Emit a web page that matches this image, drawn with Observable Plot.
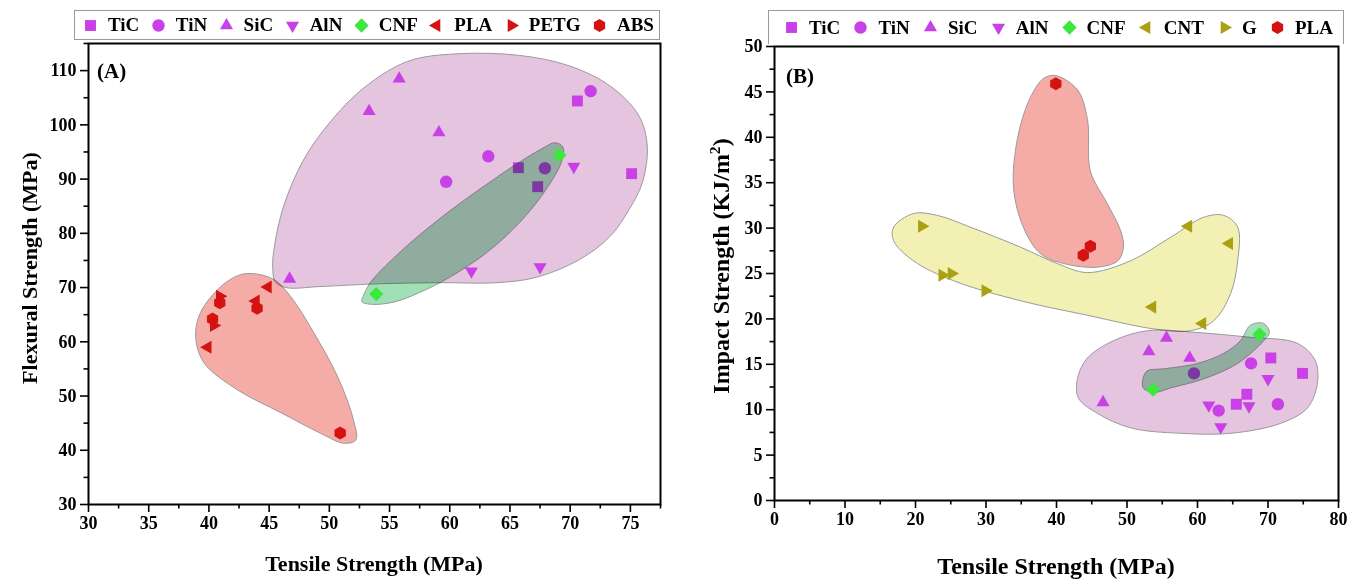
<!DOCTYPE html>
<html><head><meta charset="utf-8">
<script src="https://cdn.jsdelivr.net/npm/d3@7"></script>
<script src="https://cdn.jsdelivr.net/npm/@observablehq/plot@0.6"></script>
<style>
body{margin:0;background:#fff;}
#wrap{position:relative;width:1362px;height:581px;overflow:hidden;font-family:"Liberation Serif","Times New Roman",serif;font-weight:bold;color:#000;}
.panel{position:absolute;top:0;}
.legend{position:absolute;display:flex;align-items:center;justify-content:space-between;box-sizing:border-box;font-size:19px;border:1px solid #9a9a9a;background:#fff;}
.legend .it{display:flex;align-items:center;}
.legend svg{margin-right:9px;}
.title{position:absolute;white-space:nowrap;font-weight:bold;transform:translate(-50%,-50%);}
.tag{position:absolute;font-size:21px;font-weight:bold;}
</style></head><body><div id="wrap"></div>
<script>
// ---------- Panel A data: [tensile MPa, flexural MPa] ----------
const A_TiC  = [[70.6,104.4],[75.1,91.0],[65.7,92.1],[67.3,88.6]];
const A_TiN  = [[71.7,106.2],[63.2,94.2],[59.7,89.5],[67.9,92.0]];
const A_SiC  = [[55.8,108.5],[53.3,102.5],[59.1,98.6],[46.7,71.6]];
const A_AlN  = [[70.3,92.3],[61.8,73.0],[67.5,73.8]];
const A_CNF  = [[69.1,94.4],[53.9,68.8]];
const A_PLA  = [[44.9,70.1],[43.9,67.5],[39.9,59.0]];
const A_PETG = [[40.9,68.4],[40.4,63.0]];
const A_ABS  = [[40.9,67.2],[44.0,66.2],[40.3,64.2],[50.9,43.2]];
// group outlines (data units)
const A_groupPink = [[45.4,77.0],[46.2,85.0],[47.9,93.7],[50.1,100.6],[52.8,106.7],[56.5,111.7],[60.6,113.1],[65.8,112.8],[69.9,110.9],[73.3,107.2],[75.7,101.7],[76.4,96.1],[76.0,89.4],[74.9,84.4],[73.3,79.4],[70.8,75.2],[67.2,71.9],[63.9,70.9],[59.2,70.9],[54.2,70.7],[49.3,70.2],[46.4,70.0],[45.5,71.1],[45.3,73.7]];
const A_groupRed = [[43.5,72.6],[45.4,71.5],[46.8,68.3],[48.7,61.7],[50.7,53.5],[52.0,45.6],[52.2,41.9],[51.2,41.3],[49.3,43.1],[46.0,46.9],[42.4,51.1],[39.6,56.1],[38.9,60.9],[39.3,65.4],[41.0,70.2],[42.4,72.2]];
const A_groupGreen = [[52.8,68.3],[53.4,70.9],[56.1,77.0],[59.4,83.1],[63.3,89.4],[66.2,93.7],[67.9,95.9],[68.7,96.7],[69.4,95.9],[69.3,93.3],[68.0,88.1],[65.8,82.0],[63.1,76.5],[60.0,71.9],[57.5,69.1],[55.5,67.4],[53.6,66.9],[52.7,67.4]];
const A_xTicks = [30,35,40,45,50,55,60,65,70,75];
const A_xMinor = [32.5,37.5,42.5,47.5,52.5,57.5,62.5,67.5,72.5,77.5];
const A_yTicks = [30,40,50,60,70,80,90,100,110];
const A_yMinor = [35,45,55,65,75,85,95,105,115];

// ---------- Panel B data: [tensile MPa, impact KJ/m2] ----------
const B_TiC = [[70.4,15.7],[74.9,14.0],[67.0,11.7],[65.5,10.6]];
const B_TiN = [[59.5,14.0],[67.6,15.1],[63.0,9.9],[71.4,10.6]];
const B_SiC = [[55.6,17.9],[53.1,16.4],[58.9,15.7],[46.6,10.8]];
const B_AlN = [[70.0,13.4],[61.6,10.5],[67.3,10.4],[63.3,8.1]];
const B_CNF = [[68.8,18.3],[53.7,12.2]];
const B_CNT = [[58.7,30.2],[64.5,28.3],[53.6,21.3],[60.7,19.5]];
const B_G   = [[20.9,30.2],[23.8,24.8],[25.1,25.0],[29.9,23.1]];
const B_PLA = [[39.9,45.9],[44.8,28.0],[43.8,27.0]];
const B_groupPink = [[43.0,13.5],[44.4,15.7],[48.1,17.6],[52.9,18.7],[60.0,18.5],[67.1,18.0],[74.2,17.3],[76.7,15.4],[77.0,12.9],[75.6,10.2],[71.8,8.5],[64.7,7.4],[57.6,7.4],[50.5,8.0],[45.8,9.6],[43.1,11.3]];
const B_groupYellow = [[19.7,31.6],[16.9,30.1],[16.9,28.6],[19.7,26.4],[25.4,24.2],[34.9,22.0],[44.4,20.4],[53.8,18.9],[59.0,18.7],[62.3,19.8],[64.7,22.8],[65.7,26.4],[65.7,30.1],[63.7,31.4],[60.9,31.2],[56.2,29.0],[50.5,26.4],[44.4,25.1],[40.1,26.1],[34.9,27.9],[27.8,30.1],[23.1,31.4]];
const B_groupRed = [[39.9,46.8],[43.0,45.2],[44.4,41.9],[44.8,36.3],[47.2,32.7],[49.1,29.7],[49.5,27.9],[48.7,26.4],[45.8,25.7],[41.0,26.1],[37.7,27.2],[35.3,30.1],[33.9,34.5],[34.5,40.0],[36.3,44.4],[38.2,46.5]];
const B_groupGreen = [[52.3,13.5],[52.9,14.3],[55.2,14.5],[60.0,15.1],[63.7,16.2],[66.1,17.6],[67.5,19.3],[69.4,19.5],[70.2,18.5],[69.4,17.6],[65.7,15.1],[60.9,13.4],[56.2,12.4],[53.8,11.9],[52.3,12.4]];
const B_xTicks = [0,10,20,30,40,50,60,70,80];
const B_xMinor = [5,15,25,35,45,55,65,75];
const B_yTicks = [0,5,10,15,20,25,30,35,40,45,50];
const B_yMinor = [2.5,7.5,12.5,17.5,22.5,27.5,32.5,37.5,42.5,47.5];

// ---------- styles ----------
const MAG="#c940e6", GRN="#3de83d", RED="#d41212", OLV="#ab9f12";
const F_PINK="#e5c4df", F_RED="#f5aca7", F_GREEN="#9fe0b6", F_YEL="#f2f1b3", EDGE="#999";
const FONT='"Liberation Serif","Times New Roman",serif';
const DOT_R = 6.2;

const R = s => Math.sqrt(s/Math.PI);
function poly(c, pts){c.moveTo(pts[0][0],pts[0][1]);for(let i=1;i<pts.length;i++)c.lineTo(pts[i][0],pts[i][1]);c.closePath();}
const symSquare={draw(c,s){const h=R(s)*0.88;c.rect(-h,-h,2*h,2*h);}};
const symCircle={draw(c,s){const r=R(s);c.moveTo(r,0);c.arc(0,0,r,0,2*Math.PI);}};
function tri(angle){return {draw(c,s){const r=R(s)*1.22;const p=[0,1,2].map(k=>{const a=angle+k*2*Math.PI/3;return [r*Math.cos(a),r*Math.sin(a)];});poly(c,p);}};}
const symUp=tri(-Math.PI/2), symDown=tri(Math.PI/2), symLeft=tri(Math.PI), symRight=tri(0);
const symDiamond={draw(c,s){const r=R(s)*1.15;poly(c,[[0,-r],[r,0],[0,r],[-r,0]]);}};
const symHex={draw(c,s){const r=R(s)*1.05;const p=d3.range(6).map(k=>{const a=-Math.PI/2+k*Math.PI/3;return [r*Math.cos(a),r*Math.sin(a)];});poly(c,p);}};

const group = (pts, fill) => Plot.line(pts, {x:d=>d[0], y:d=>d[1], curve:"catmull-rom-closed", fill, stroke:EDGE, strokeWidth:1, mixBlendMode:"multiply"});
const dots = (pts, symbol, fill) => Plot.dot(pts, {x:d=>d[0], y:d=>d[1], r:DOT_R, symbol, fill, stroke:"none"});
function axes(xt, xm, yt, ym){
  return [
    Plot.axisX(xt, {tickSize:8, tickPadding:4, strokeWidth:1.6, label:null, fontSize:18, fontWeight:"bold"}),
    Plot.axisX(xm, {tickSize:4.5, strokeWidth:1.6, label:null, tickFormat:()=>""}),
    Plot.axisY(yt, {tickSize:8, tickPadding:4, strokeWidth:1.6, label:null, fontSize:18, fontWeight:"bold"}),
    Plot.axisY(ym, {tickSize:4.5, strokeWidth:1.6, label:null, tickFormat:()=>""}),
    Plot.frame({stroke:"#000", strokeWidth:2})
  ];
}
const style = {fontFamily:FONT, fontSize:"18px", fontWeight:"bold", color:"#000", background:"transparent", overflow:"visible"};

const plotA = Plot.plot({
  width:680, height:581, marginLeft:88, marginRight:20, marginTop:43, marginBottom:77,
  x:{domain:[30,77.5]}, y:{domain:[30,115]}, style,
  marks:[
    group(A_groupPink, F_PINK), group(A_groupRed, F_RED),
    dots(A_TiC, symSquare, MAG), dots(A_TiN, symCircle, MAG), dots(A_SiC, symUp, MAG), dots(A_AlN, symDown, MAG),
    dots(A_PLA, symLeft, RED), dots(A_PETG, symRight, RED), dots(A_ABS, symHex, RED),
    group(A_groupGreen, F_GREEN),
    dots(A_CNF, symDiamond, GRN),
    ...axes(A_xTicks, A_xMinor, A_yTicks, A_yMinor)
  ]
});
const plotB = Plot.plot({
  width:682, height:581, marginLeft:94, marginRight:24, marginTop:46, marginBottom:81,
  x:{domain:[0,80]}, y:{domain:[0,50]}, style,
  marks:[
    group(B_groupPink, F_PINK), group(B_groupYellow, F_YEL), group(B_groupRed, F_RED),
    dots(B_TiC, symSquare, MAG), dots(B_TiN, symCircle, MAG), dots(B_SiC, symUp, MAG), dots(B_AlN, symDown, MAG),
    dots(B_CNT, symLeft, OLV), dots(B_G, symRight, OLV), dots(B_PLA, symHex, RED),
    group(B_groupGreen, F_GREEN),
    dots(B_CNF, symDiamond, GRN),
    ...axes(B_xTicks, B_xMinor, B_yTicks, B_yMinor)
  ]
});

const wrap = document.getElementById("wrap");
function place(node, left){const d=document.createElement("div");d.className="panel";d.style.left=left+"px";d.appendChild(node);wrap.appendChild(d);}
place(plotA, 0); place(plotB, 680);

function symSvg(sym, color){
  const p=d3.path(); sym.draw(p, Math.PI*6.2*6.2);
  const ns="http://www.w3.org/2000/svg";
  const s=document.createElementNS(ns,"svg"); s.setAttribute("width",17); s.setAttribute("height",17); s.setAttribute("viewBox","-8.5 -8.5 17 17");
  const path=document.createElementNS(ns,"path"); path.setAttribute("d",p.toString()); path.setAttribute("fill",color);
  s.appendChild(path); return s;
}
const A_legendLabels = ["TiC","TiN","SiC","AlN","CNF","PLA","PETG","ABS"];
const A_legendSyms = [[symSquare,MAG],[symCircle,MAG],[symUp,MAG],[symDown,MAG],[symDiamond,GRN],[symLeft,RED],[symRight,RED],[symHex,RED]];
const B_legendLabels = ["TiC","TiN","SiC","AlN","CNF","CNT","G","PLA"];
const B_legendSyms = [[symSquare,MAG],[symCircle,MAG],[symUp,MAG],[symDown,MAG],[symDiamond,GRN],[symLeft,OLV],[symRight,OLV],[symHex,RED]];
function legend(labels, syms, left, top, width, height, pad){
  const d=document.createElement("div"); d.className="legend";
  Object.assign(d.style,{left:left+"px",top:top+"px",width:width+"px",height:height+"px",padding:pad});
  labels.forEach((t,i)=>{const it=document.createElement("div");it.className="it";it.appendChild(symSvg(syms[i][0],syms[i][1]));const sp=document.createElement("span");sp.textContent=t;it.appendChild(sp);d.appendChild(it);});
  wrap.appendChild(d); return d;
}
legend(A_legendLabels, A_legendSyms, 74, 10, 586, 30, "0 5px 0 7px");
const lb = legend(B_legendLabels, B_legendSyms, 768, 10, 576, 34, "0 10px 0 14px");
lb.style.borderBottom="none";

function title(html, x, y, size, rotate){const d=document.createElement("div");d.className="title";d.innerHTML=html;Object.assign(d.style,{left:x+"px",top:y+"px",fontSize:size+"px"});if(rotate)d.style.transform="translate(-50%,-50%) rotate(-90deg)";wrap.appendChild(d);}
title("Tensile Strength (MPa)", 374, 564, 22);
title("Flexural Strength (MPa)", 30, 268, 22, true);
title("Tensile Strength (MPa)", 1056, 566, 24);
title("Impact Strength (KJ/m<sup style=\"font-size:0.65em\">2</sup>)", 720, 266, 24, true);
function tag(t,x,y){const d=document.createElement("div");d.className="tag";d.textContent=t;Object.assign(d.style,{left:x+"px",top:y+"px"});wrap.appendChild(d);}
tag("(A)", 97, 59); tag("(B)", 786, 64);
</script></body></html>
